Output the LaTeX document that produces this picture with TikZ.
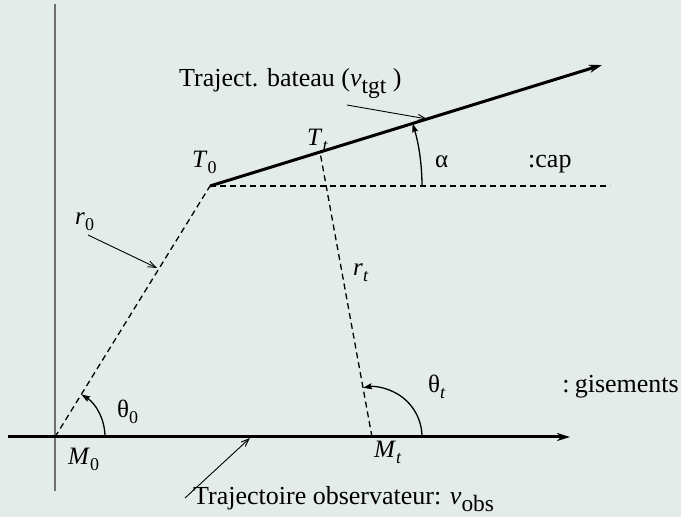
\documentclass[tikz,border=0pt]{standalone}
\usepackage{fontspec}
\setmainfont{Liberation Serif}
\usepackage{graphicx}
\usetikzlibrary{arrows.meta,calc}
\definecolor{bgcol}{RGB}{228,236,233}
\definecolor{axisgray}{RGB}{110,110,110}
\newcommand{\tsub}[1]{\raisebox{-0.26em}{\scalebox{0.9}{#1}}}
\newcommand{\psub}[1]{\raisebox{-0.22em}{\scalebox{0.72}{#1}}}
\begin{document}
\begin{tikzpicture}[x=1pt,y=1pt,
  txt/.style={font=\fontsize{26}{30}\selectfont, inner sep=0pt, anchor=base west},
  lbl/.style={font=\fontsize{25}{30}\selectfont, inner sep=0pt, anchor=base west},
  thickline/.style={line width=3pt, -{Stealth[length=13pt,width=8pt,inset=4pt]}},
  dashline/.style={line width=1.3pt, dash pattern=on 6pt off 4pt},
  anglearc/.style={line width=1.3pt, -{Stealth[length=9pt,width=6pt,inset=1.5pt]}},
  pointer/.style={line width=0.9pt, -{Straight Barb[length=8pt,width=6pt]}},
]
\fill[bgcol] (0,0) rectangle (681,517);
\useasboundingbox (0,0) rectangle (681,517);
\coordinate (M0) at (55,80);
\coordinate (T0) at (210,331);
\coordinate (Btip) at (602,452);
\coordinate (Tt) at ($(T0)!{110/392}!(Btip)$);
\coordinate (Mt) at (372,80);
\coordinate (Ostart) at (8,80);
\coordinate (Otip) at (570,80);
\coordinate (Capend) at (610,331);
\coordinate (Vtop) at (55,513);
\coordinate (Vbot) at (55,26);

\draw[axisgray, line width=1.8pt] (Vbot) -- (Vtop);
\draw[dashline] (M0) -- (T0);
\draw[dashline] (T0) -- (Capend);
\draw[dashline] (Mt) -- (Tt);
\draw[thickline] (Ostart) -- (Otip);
\draw[thickline] (T0) -- (Btip);

\draw[anglearc] ($(T0)+(212,0)$) arc[start angle=0, end angle=17.15, radius=212];
\draw[anglearc] ($(M0)+(50,0)$) arc[start angle=0, end angle=58.3, radius=50];
\draw[anglearc] ($(Mt)+(50,0)$) arc[start angle=0, end angle=100.34, radius=50];

\coordinate (pB1) at (347,412); \coordinate (pB2) at (427,398);
\coordinate (pR1) at (88,282);  \coordinate (pR2) at (157,249);
\coordinate (pO1) at (185,19);  \coordinate (pO2) at (250,79);
\draw[pointer] (pB1) -- (pB2);
\draw[pointer] (pR1) -- (pR2);
\draw[pointer] (pO1) -- (pO2);

\node[txt] (lblBoat) at (179,430) {Traject. bateau (\textit{v}\tsub{tgt} )};
\node[txt] (lblObs) at (193,12) {Trajectoire observateur: \textit{v}\tsub{obs}};
\node[txt] (lblCap) at (528,349) {:cap};
\node[txt, anchor=base east] (lblGis) at (679,124) {:\hspace{0.2em}gisements};
\node[lbl] (lT0) at (192,349) {\textit{T}\psub{0}};
\node[lbl] (lTt) at (307,371) {\textit{T}\psub{\textit{t}}};
\node[lbl] (lr0) at (75,292) {\textit{r}\psub{0}};
\node[lbl] (lrt) at (353,241) {\textit{r}\psub{\textit{t}}};
\node[lbl] (lM0) at (68,52) {\textit{M}\psub{0}};
\node[lbl] (lMt) at (374,59) {\textit{M}\psub{\textit{t}}};
\node[lbl] (lth0) at (117,99) {θ\psub{0}};
\node[lbl] (ltht) at (428,124) {θ\psub{\textit{t}}};
\node[lbl] (lalpha) at (435,349) {α};
\end{tikzpicture}
\end{document}
